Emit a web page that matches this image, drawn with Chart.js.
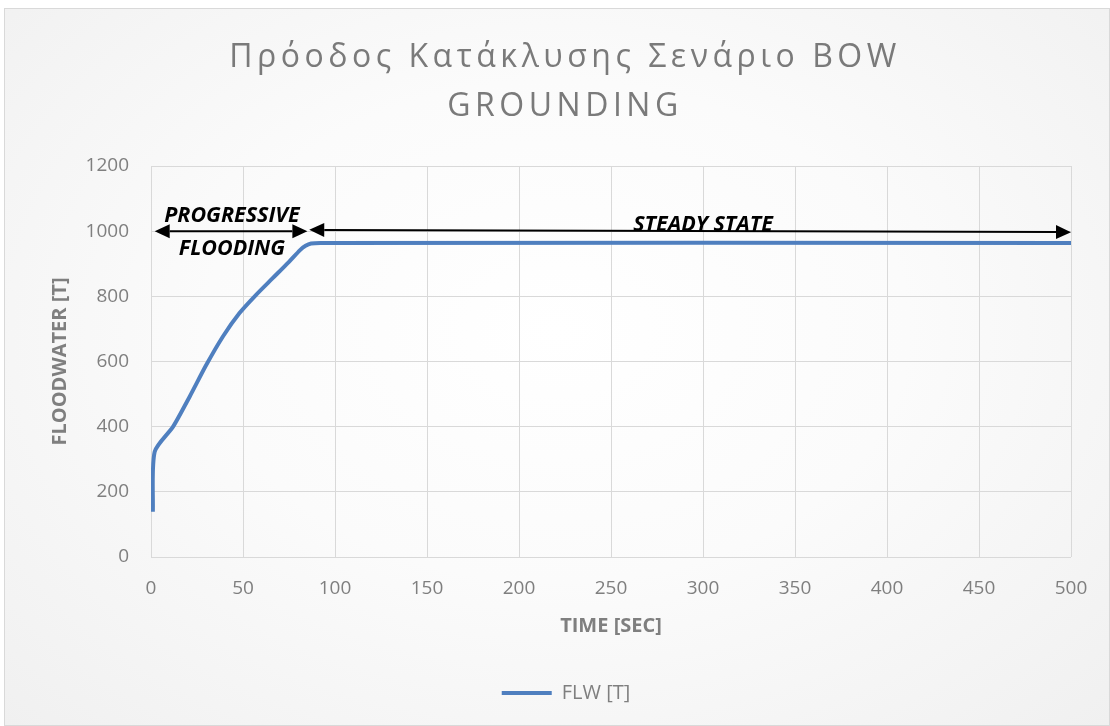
<!DOCTYPE html>
<html>
<head>
<meta charset="utf-8">
<script src="https://cdn.jsdelivr.net/npm/chart.js@4/dist/chart.umd.min.js"></script>
<style>
  body { margin: 0; background: #fff; }
  #frame {
    position: absolute; left: 4px; top: 8px; width: 1106px; height: 718px;
    box-sizing: border-box; border: 1px solid #d9d9d9;
    background: radial-gradient(ellipse at 50% 45%, #ffffff 0%, #fbfbfb 45%, #f0f0f0 100%);
  }
  #floodChart { position: absolute; left: 0; top: 0; }
</style>
</head>
<body>
<div id="frame"></div>
<canvas id="floodChart" width="1110" height="726"></canvas>
<script>
// flooding progress, time in seconds vs floodwater in tonnes
const timeSec = [1, 2, 12, 21, 30, 39, 48, 57, 66, 75, 81, 84, 87, 92, 500];
const floodwater = [139, 323, 400, 492, 589, 676, 748, 804, 855, 906, 942, 955, 962, 964, 964];
const xTicks = [0, 50, 100, 150, 200, 250, 300, 350, 400, 450, 500];
const yTicks = [0, 200, 400, 600, 800, 1000, 1200];
const titleLines = ['Πρόοδος Κατάκλυσης Σενάριο BOW', 'GROUNDING'];

// phase arrows [x1, y1, x2, y2] and labels [x, y, text]
const phaseArrows = [
    [2, 1000, 85, 1000],
    [86, 1004, 500, 997]
];
const phaseLabels = [
    [44, 1047, 'PROGRESSIVE'],
    [44, 945, 'FLOODING'],
    [300, 1020, 'STEADY STATE']
];

const textGray = '#7f7f7f';
const lineBlue = '#4f7fbf';

// spaced-out two line heading above the plot
const headingPlugin = {
    id: 'heading',
    afterDraw(chart) {
        const ctx = chart.ctx;
        ctx.save();
        ctx.fillStyle = '#7a7a7a';
        ctx.font = '400 32px "Open Sans"';
        ctx.letterSpacing = '4.5px';
        ctx.textAlign = 'center';
        ctx.textBaseline = 'middle';
        titleLines.forEach((line, i) => ctx.fillText(line, 565, 58 + i * 49));
        ctx.restore();
    }
};

// draws the double arrows and phase names on top of the series
const phasePlugin = {
    id: 'phases',
    afterDatasetsDraw(chart) {
        const {ctx, scales: {x, y}} = chart;
        ctx.save();
        ctx.fillStyle = '#000';
        ctx.font = 'italic bold 21.5px "Open Sans"';
        ctx.textAlign = 'center';
        ctx.textBaseline = 'middle';
        phaseLabels.forEach(([lx, ly, txt]) => {
            ctx.fillText(txt, x.getPixelForValue(lx), y.getPixelForValue(ly));
        });
        ctx.strokeStyle = '#000';
        ctx.lineWidth = 2;
        phaseArrows.forEach(([x1, y1, x2, y2]) => {
            const ax = x.getPixelForValue(x1), ay = y.getPixelForValue(y1);
            const bx = x.getPixelForValue(x2), by = y.getPixelForValue(y2);
            const ang = Math.atan2(by - ay, bx - ax);
            const len = 15, half = 7;
            ctx.beginPath();
            ctx.moveTo(ax + len * Math.cos(ang), ay + len * Math.sin(ang));
            ctx.lineTo(bx - len * Math.cos(ang), by - len * Math.sin(ang));
            ctx.stroke();
            [[ax, ay, ang + Math.PI], [bx, by, ang]].forEach(([px, py, a]) => {
                const baseX = px - len * Math.cos(a), baseY = py - len * Math.sin(a);
                ctx.beginPath();
                ctx.moveTo(px, py);
                ctx.lineTo(baseX - half * Math.sin(a), baseY + half * Math.cos(a));
                ctx.lineTo(baseX + half * Math.sin(a), baseY - half * Math.cos(a));
                ctx.closePath();
                ctx.fill();
            });
        });
        ctx.restore();
    }
};

new Chart(document.getElementById('floodChart'), {
    type: 'line',
    data: {
        datasets: [{
            label: 'FLW [T]',
            data: timeSec.map((t, i) => ({x: t, y: floodwater[i]})),
            borderColor: lineBlue,
            backgroundColor: lineBlue,
            borderWidth: 4,
            pointRadius: 0,
            tension: 0.25,
            borderJoinStyle: 'round',
            fill: false
        }]
    },
    options: {
        responsive: false,
        animation: false,
        layout: { padding: { left: 22, right: 0, top: 166, bottom: 13 } },
        plugins: {
            title: { display: false },
            legend: {
                position: 'bottom',
                labels: {
                    usePointStyle: true,
                    pointStyle: 'line',
                    pointStyleWidth: 50,
                    color: textGray,
                    font: { family: '"Open Sans"', size: 20 }
                }
            },
            tooltip: { enabled: false }
        },
        scales: {
            x: {
                type: 'linear',
                min: 0,
                max: 500,
                afterBuildTicks: s => { s.ticks = xTicks.map(v => ({value: v})); },
                afterFit: s => { s.height = 116; },
                grid: { color: '#d9d9d9', drawTicks: false },
                border: { display: false },
                ticks: { color: textGray, padding: 20, font: { family: '"Open Sans"', size: 19 } },
                title: {
                    display: true,
                    text: 'TIME [SEC]',
                    color: textGray,
                    font: { family: '"Open Sans"', size: 20, weight: 'bold' },
                    padding: { bottom: 35 }
                }
            },
            y: {
                min: 0,
                max: 1200,
                afterBuildTicks: s => { s.ticks = yTicks.map(v => ({value: v})); },
                afterFit: s => { s.width = 129; },
                grid: { color: '#d9d9d9', drawTicks: false },
                border: { display: false },
                ticks: {
                    color: textGray,
                    padding: 22,
                    font: { family: '"Open Sans"', size: 19 },
                    callback: v => String(v)
                },
                title: {
                    display: true,
                    text: 'FLOODWATER [T]',
                    color: textGray,
                    font: { family: '"Open Sans"', size: 20, weight: 'bold' },
                    padding: { top: 26 }
                }
            },
            // empty right-hand strip so the plot ends short of the frame edge
            yRight: {
                position: 'right',
                min: 0,
                max: 1200,
                afterFit: s => { s.width = 39; },
                grid: { display: false },
                border: { display: false },
                ticks: { display: false }
            }
        }
    },
    plugins: [phasePlugin, headingPlugin]
});
</script>
</body>
</html>
